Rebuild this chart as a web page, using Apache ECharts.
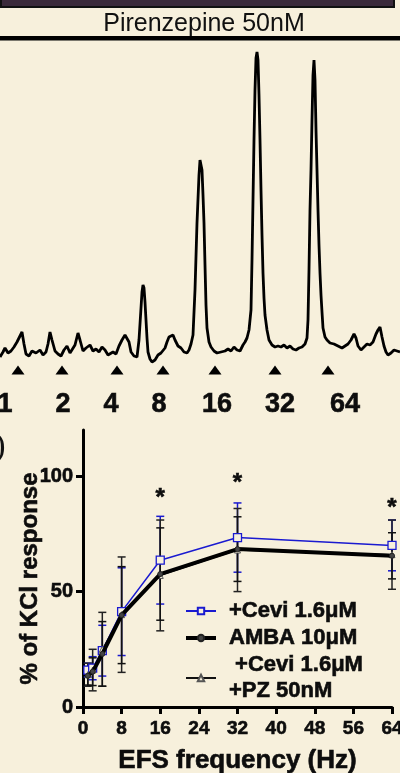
<!DOCTYPE html>
<html>
<head>
<meta charset="utf-8">
<script src="https://cdn.jsdelivr.net/npm/echarts@6/dist/echarts.min.js"></script>
<style>
html,body{margin:0;padding:0;background:#f7f0dc;}
#main{width:400px;height:773px;}
</style>
</head>
<body>
<div id="main"></div>
<script>
// frequency-response data (% of KCl response)
var freq = [1, 2, 4, 8, 16, 32, 64];
var ceviMean = [16, 16.8, 24.4, 41.3, 63.6, 73.4, 70];
var ceviErr = [3, 5, 11, 19, 19, 15, 11];
var ambaMean = [13.5, 15.3, 23, 39.8, 57.6, 68.4, 65.5];
var ambaErr = [4, 6, 14, 21, 20, 14, 10];
var pzMean = [14, 16, 25, 40, 57, 68, 66];
var pzErr = [5, 9, 16, 25, 24, 18, 15];
var starFreq = [16, 32, 64];
var starY = [92.6, 99, 88.3];

// recorded trace [time, amplitude]
var trace = [
  [0,13],[3,18],[5,22],[8,17],[11,19],[14,23],[17,28],[20,34],[22,38],[24,26],[26,16],[29,14],
  [32,19],[36,17],[40,20],[43,15],[46,18],[48,26],[50,38],[52,30],[55,19],[58,16],[61,14],[64,20],
  [67,24],[70,17],[72,19],[75,25],[78,37],[80,30],[83,19],[86,22],[90,25],[93,19],[96,21],[99,18],
  [102,23],[105,20],[108,15],[110,13],[113,18],[116,16],[119,24],[122,30],[125,35],[127,36],[129,28],
  [131,18],[134,14],[137,13],[139,30],[141,62],[142,78],[143,85],[144,82],[145,68],[146,50],[147,32],
  [148,18],[150,11],[152,8],[155,10],[158,15],[161,17],[163,19],[165,22],[167,28],[169,33],[171,34],
  [173,35],[175,30],[178,24],[181,22],[184,18],[187,17],[189,20],[191,26],[193,35],[195,80],[197,147],
  [199,195],[200,210],[201,212],[202,200],[203,175],[204,147],[205,105],[206,65],[207,42],[209,28],
  [211,23],[214,19],[217,17],[221,18],[225,19],[228,21],[231,19],[234,23],[237,20],[240,19],[243,25],
  [245,28],[247,32],[249,40],[251,60],[252,110],[253,170],[254,230],[255,280],[256,312],[257,318],
  [258,310],[259,275],[260,230],[261,180],[262,135],[263,97],[264,72],[265,55],[267,40],[269,30],
  [272,25],[275,23],[278,24],[281,23],[284,25],[287,22],[290,24],[293,21],[296,20],[299,22],[302,23],
  [305,26],[307,32],[308,50],[309,100],[310,160],[311,200],[312,250],[313,295],[314,310],[315,290],
  [316,240],[317,200],[318,160],[319,125],[320,97],[321,75],[322,58],[323,42],[325,33],[327,30],
  [330,27],[334,26],[338,24],[342,22],[345,24],[348,26],[351,30],[354,36],[356,32],[358,24],[361,20],
  [364,23],[367,26],[370,25],[373,28],[376,36],[378,40],[380,43],[382,33],[384,24],[386,18],[388,15],
  [391,17],[394,20],[397,19],[400,18]
];
var stimX = [18, 62, 117, 163, 215, 275, 328];
var stimLabels = ['1', '2', '4', '8', '16', '32', '64'];
var stimLabelX = [5, 63, 111, 159, 217, 280, 345];

var FONT = '"Liberation Sans", Arial, sans-serif';
var BG = '#f7f0dc';
var INK = '#0d0d0d';
var BLUE = '#1a1ad0';

function errData(mean, err) {
  return freq.map(function (f, i) { return [f, mean[i] - err[i], mean[i] + err[i]]; });
}
function errSeries(mean, err, color) {
  return {
    type: 'custom', xAxisIndex: 1, yAxisIndex: 1, silent: true, z: 1,
    data: errData(mean, err),
    renderItem: function (params, api) {
      var lo = api.coord([api.value(0), api.value(1)]);
      var hi = api.coord([api.value(0), api.value(2)]);
      var w = 4;
      var st = { stroke: color, lineWidth: 1.5 };
      return { type: 'group', children: [
        { type: 'line', shape: { x1: lo[0], y1: lo[1], x2: hi[0], y2: hi[1] }, style: st },
        { type: 'line', shape: { x1: lo[0] - w, y1: lo[1], x2: lo[0] + w, y2: lo[1] }, style: st },
        { type: 'line', shape: { x1: hi[0] - w, y1: hi[1], x2: hi[0] + w, y2: hi[1] }, style: st }
      ]};
    }
  };
}

// heavy bold text like the scanned figure
function heavy(size) {
  return { fontSize: size, fontWeight: 'bold', color: INK, fontFamily: FONT,
    textBorderColor: INK, textBorderWidth: 0.6 };
}

var chart = echarts.init(document.getElementById('main'));

var option = {
  backgroundColor: BG,
  animation: false,
  textStyle: { fontFamily: FONT },
  graphic: [
    { type: 'rect', shape: { x: 1, y: -3, width: 393, height: 10 },
      style: { fill: '#3b2a3b', stroke: '#111', lineWidth: 2 } },
    { type: 'text', x: 204, y: 24,
      style: { text: 'Pirenzepine 50nM', font: '25px ' + FONT, fill: '#111',
        textAlign: 'center', textVerticalAlign: 'middle' } },
    { type: 'rect', shape: { x: 0, y: 36, width: 400, height: 4.5 }, style: { fill: '#000' } },
    { type: 'text', x: 0, y: 447,
      style: { text: ')', font: '34px "Liberation Serif", serif', fill: '#111',
        textAlign: 'center', textVerticalAlign: 'middle' } }
  ],
  legend: {
    orient: 'vertical', left: 179, top: 593, itemGap: 1,
    itemWidth: 30, itemHeight: 8,
    data: [
      { name: '+Cevi 1.6μM' },
      { name: 'AMBA 10μM', lineStyle: { width: 4, color: '#000' } },
      { name: ' +Cevi 1.6μM\n+PZ 50nM' }
    ],
    textStyle: Object.assign(heavy(22), { lineHeight: 26, padding: [0, 0, 0, 8] })
  },
  grid: [
    { left: 0, right: 0, top: 40, height: 380, outerBoundsMode: 'none' },
    { left: 83, right: 8, top: 430, bottom: 66, outerBoundsMode: 'none' }
  ],
  xAxis: [
    { gridIndex: 0, type: 'value', min: 0, max: 400, show: false },
    { gridIndex: 1, type: 'value', min: 0, max: 64, interval: 8,
      axisLine: { show: true, lineStyle: { color: '#000', width: 3 } },
      axisTick: { show: true, length: 7, lineStyle: { color: '#000', width: 3 } },
      axisLabel: Object.assign(heavy(19), { margin: 12 }),
      splitLine: { show: false },
      name: 'EFS frequency (Hz)', nameLocation: 'middle', nameGap: 41,
      nameTextStyle: heavy(26) }
  ],
  yAxis: [
    { gridIndex: 0, type: 'value', min: -50, max: 330, show: false },
    { gridIndex: 1, type: 'value', min: 0, max: 120, interval: 50,
      axisLine: { show: true, lineStyle: { color: '#000', width: 3 } },
      axisTick: { show: true, length: 7, lineStyle: { color: '#000', width: 3 }, customValues: [0, 50, 100] },
      axisLabel: Object.assign(heavy(20), { margin: 10, customValues: [0, 50, 100] }),
      splitLine: { show: false },
      name: '% of KCl response', nameLocation: 'middle', nameGap: 41, nameRotate: 90,
      nameMoveOverlap: false,
      nameTextStyle: Object.assign(heavy(24), { padding: [0, 20, 0, 0] }) }
  ],
  series: [
    { type: 'line', xAxisIndex: 0, yAxisIndex: 0, data: trace, showSymbol: false, silent: true,
      lineStyle: { color: '#000', width: 2.8 } },
    { type: 'scatter', xAxisIndex: 0, yAxisIndex: 0, silent: true, symbol: 'triangle',
      symbolSize: [13, 9], itemStyle: { color: '#000', opacity: 1 },
      data: stimX.map(function (x) { return [x, 0]; }) },
    { type: 'scatter', xAxisIndex: 0, yAxisIndex: 0, silent: true, symbolSize: 0, clip: false,
      itemStyle: { opacity: 1 },
      data: stimLabelX.map(function (x) { return [x, -35]; }),
      label: Object.assign(heavy(27), { show: true, position: 'inside',
        formatter: function (p) { return stimLabels[p.dataIndex]; } }) },
    errSeries(ceviMean, ceviErr, BLUE),
    errSeries(pzMean, pzErr, '#222'),
    errSeries(ambaMean, ambaErr, '#111'),
    { name: '+Cevi 1.6μM', type: 'line', xAxisIndex: 1, yAxisIndex: 1, z: 3,
      data: freq.map(function (f, i) { return [f, ceviMean[i]]; }),
      symbol: 'rect', symbolSize: 8,
      lineStyle: { color: BLUE, width: 1.5 },
      itemStyle: { color: BG, borderColor: BLUE, borderWidth: 1.3 } },
    { name: ' +Cevi 1.6μM\n+PZ 50nM', type: 'line', xAxisIndex: 1, yAxisIndex: 1, z: 3,
      data: freq.map(function (f, i) { return [f, pzMean[i]]; }),
      symbol: 'triangle', symbolSize: 6,
      lineStyle: { color: '#111', width: 1.2 },
      itemStyle: { color: BG, borderColor: '#555', borderWidth: 1 } },
    { name: 'AMBA 10μM', type: 'line', xAxisIndex: 1, yAxisIndex: 1, z: 4,
      data: freq.map(function (f, i) { return [f, ambaMean[i]]; }),
      symbol: 'circle', symbolSize: 5,
      lineStyle: { color: '#000', width: 4 },
      itemStyle: { color: '#444', borderColor: '#222', borderWidth: 1 } },
    { type: 'scatter', xAxisIndex: 1, yAxisIndex: 1, silent: true, symbolSize: 0,
      itemStyle: { opacity: 1 },
      data: starFreq.map(function (f, i) { return [f, starY[i]]; }),
      label: Object.assign(heavy(24), { show: true, position: 'inside', offset: [0, 5],
        formatter: '*' }) }
  ]
};

chart.setOption(option);
</script>
</body>
</html>
